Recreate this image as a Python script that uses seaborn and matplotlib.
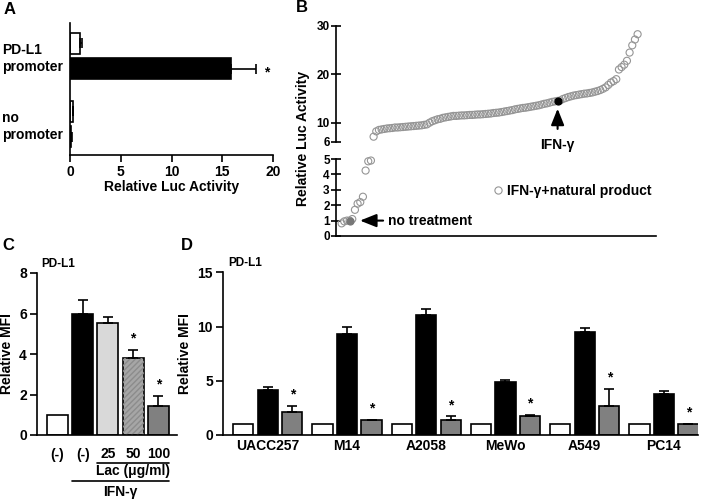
import numpy as np
import pandas as pd
import matplotlib
matplotlib.use('Agg')
import matplotlib.pyplot as plt
from matplotlib.lines import Line2D
from matplotlib.patches import Rectangle
from matplotlib.container import BarContainer
import seaborn as sns

sns.set_style('ticks', rc={'axes.edgecolor': 'black', 'text.color': 'black',
                           'xtick.color': 'black', 'ytick.color': 'black',
                           'axes.labelcolor': 'black'})
plt.rcParams['font.family'] = ['Liberation Sans', 'DejaVu Sans']
plt.rcParams['font.weight'] = 'bold'
plt.rcParams['axes.labelweight'] = 'bold'
plt.rcParams['axes.linewidth'] = 1.2
plt.rcParams['xtick.major.width'] = 1.2
plt.rcParams['ytick.major.width'] = 1.2

# ---- data ----
# A: luciferase reporter, without / with IFN-gamma
a_groups = ['PD-L1\npromoter', 'no\npromoter']
a_ctrl = [1.0, 0.25]
a_ctrl_err = [0.2, 0.04]
a_ifn = [15.9, 0.12]
a_ifn_err = [2.4, 0.03]

# B: natural product screen, sorted by activity
b_values = [0.82, 0.95, 1.0, 1.0, 1.1, 1.7, 2.1, 2.2, 2.55, 4.25,
            4.85, 4.9, 7.1, 8.2, 8.5, 8.6, 8.7, 8.8, 8.85, 8.9,
            9.0, 9.0, 9.05, 9.1, 9.15, 9.2, 9.25, 9.3, 9.35, 9.4,
            9.45, 9.55, 9.65, 10.0, 10.3, 10.5, 10.7, 10.8, 11.0, 11.1,
            11.2, 11.3, 11.4, 11.4, 11.45, 11.5, 11.5, 11.55, 11.6, 11.6,
            11.65, 11.7, 11.7, 11.75, 11.8, 11.85, 11.9, 12.0, 12.05, 12.1,
            12.2, 12.3, 12.4, 12.5, 12.6, 12.75, 12.85, 12.95, 13.05, 13.1,
            13.2, 13.3, 13.4, 13.5, 13.6, 13.75, 13.9, 14.0, 14.15, 14.3,
            14.4, 14.5, 14.6, 14.9, 15.1, 15.3, 15.45, 15.6, 15.7, 15.8,
            15.9, 16.0, 16.05, 16.15, 16.25, 16.4, 16.55, 16.75, 17.0, 17.3,
            17.8, 18.3, 18.6, 19.0, 21.0, 21.5, 22.0, 22.8, 24.5, 26.0,
            27.2, 28.3]
b_none_idx = 3
b_ifn_idx = 81

# C: Lac dose response
c_labels = ['(-)', '(-)', '25', '50', '100']
c_values = [1.0, 6.0, 5.54, 3.8, 1.45]
c_err = [0.0, 0.66, 0.29, 0.41, 0.48]
c_sig = [False, False, False, True, True]
c_colors = ['white', 'black', '#d9d9d9', '#a6a6a6', '#808080']

# D: cell lines
d_cells = ['UACC257', 'M14', 'A2058', 'MeWo', 'A549', 'PC14']
d_ctrl = [1.0, 1.0, 1.0, 1.0, 1.0, 1.0]
d_ifn = [4.15, 9.32, 11.1, 4.92, 9.48, 3.82]
d_ifn_err = [0.31, 0.68, 0.5, 0.18, 0.37, 0.27]
d_lac = [2.09, 1.35, 1.38, 1.78, 2.7, 1.0]
d_lac_err = [0.59, 0.03, 0.34, 0.07, 1.58, 0.06]

W, H = 710, 501
fig = plt.figure(figsize=(7.1, 5.01), dpi=100)


def box(l, t, r, b):
    return [l / W, 1 - b / H, (r - l) / W, (b - t) / H]


def bars_of(ax):
    return [c for c in ax.containers if isinstance(c, BarContainer)]


def one_sided(ax, x, y, e, horiz=False):
    kw = dict(fmt='none', ecolor='black', elinewidth=1.2, capsize=3.3, capthick=1.2)
    if horiz:
        ax.errorbar(x, y, xerr=[[0], [e]], **kw)
    else:
        ax.errorbar(x, y, yerr=[[0], [e]], **kw)


FS = 10

# ---------------- A ----------------
axA = fig.add_axes(box(70, 23, 273, 155))
dfa = pd.DataFrame({'group': a_groups * 2, 'val': a_ctrl + a_ifn,
                    'cond': ['ctrl'] * 2 + ['ifn'] * 2})
sns.barplot(data=dfa, y='group', x='val', hue='cond', orient='h',
            palette=['white', 'black'], saturation=1, edgecolor='black',
            linewidth=1.2, width=0.744, gap=0.19, errorbar=None, legend=False, ax=axA)
contA = bars_of(axA)
for j, errs in enumerate([a_ctrl_err, a_ifn_err]):
    for i, bar in enumerate(contA[j]):
        yc = bar.get_y() + bar.get_height() / 2
        one_sided(axA, bar.get_width(), yc, errs[i], horiz=True)
bar = contA[1][0]
axA.annotate('*', xy=(a_ifn[0] + a_ifn_err[0], bar.get_y() + bar.get_height() / 2),
             xytext=(6, -3), textcoords='offset points', ha='left', va='center', fontsize=FS)
axA.set_xlim(0, 20)
axA.set_ylim(1.456, -0.485)
axA.set_xticks([0, 5, 10, 15, 20])
axA.tick_params(axis='x', length=5, labelsize=FS, pad=2)
axA.tick_params(axis='y', length=0, pad=49)
axA.set_yticks([0, 1])
axA.set_yticklabels(a_groups, ha='left', fontsize=FS)
axA.set_xlabel('Relative Luc Activity', fontsize=FS, labelpad=1)
axA.set_ylabel('')
sns.despine(ax=axA)

# ---------------- B ----------------
axBu = fig.add_axes(box(336, 26, 656, 142))
axBl = fig.add_axes(box(336, 159, 656, 236))
dfb = pd.DataFrame({'idx': np.arange(len(b_values)), 'val': b_values})
for ax, part in [(axBl, dfb[dfb.val < 5.5]), (axBu, dfb[dfb.val >= 5.5])]:
    sns.scatterplot(data=part, x='idx', y='val', ax=ax, marker='o', s=26,
                    facecolor='none', edgecolor='#959595', linewidth=0.8, clip_on=False)
sp = dfb.loc[[b_none_idx]]
sns.scatterplot(data=sp, x='idx', y='val', ax=axBl, s=26, color='#777777',
                edgecolor='#777777', linewidth=0.8, clip_on=False)
sp = dfb.loc[[b_ifn_idx]]
sns.scatterplot(data=sp, x='idx', y='val', ax=axBu, s=26, color='black',
                edgecolor='black', linewidth=0.8, clip_on=False, zorder=5)
for ax in [axBl, axBu]:
    ax.set_xlim(-2.1, 117.9)
    ax.set_xlabel('')
    ax.set_ylabel('')
    ax.set_xticks([])
    ax.tick_params(axis='y', direction='inout', length=7, labelsize=8.5, pad=1)
axBl.set_ylim(0, 5)
axBl.set_yticks([0, 1, 2, 3, 4, 5])
axBu.set_ylim(6, 30)
axBu.set_yticks([6, 10, 20, 30])
sns.despine(ax=axBl)
sns.despine(ax=axBu, bottom=True)

axBu.annotate('IFN-\u03b3', xy=(b_ifn_idx, 12.9), xytext=(0, -26),
              textcoords='offset points', ha='center', va='center', fontsize=FS,
              annotation_clip=False,
              arrowprops=dict(arrowstyle='-|>,head_length=0.45,head_width=0.18',
                              mutation_scale=22, lw=1.5, color='black',
                              shrinkA=4, shrinkB=0))
axBl.annotate('no treatment', xy=(6.9, 1.0), xytext=(20, 0),
              textcoords='offset points', ha='left', va='center', fontsize=FS,
              arrowprops=dict(arrowstyle='-|>,head_length=0.45,head_width=0.18',
                              mutation_scale=22, lw=1.5, color='black',
                              shrinkA=1, shrinkB=0))
hnd = Line2D([], [], marker='o', ls='none', mfc='none', mec='#959595', ms=5.2, mew=0.8)
axBl.legend([hnd], ['IFN-\u03b3+natural product'], loc='center left',
            bbox_to_anchor=(0.4875, 0.584), frameon=False, handlelength=0.8,
            handletextpad=0.3, borderaxespad=0, borderpad=0, fontsize=FS)
fig.text(303 / W, 1 - 138 / H, 'Relative Luc Activity', rotation=90,
         ha='center', va='center', fontsize=FS)

# ---------------- C ----------------
axC = fig.add_axes(box(36.7, 273, 176.7, 435))
dfc = pd.DataFrame({'cond': ['none', 'ifn', 'lac25', 'lac50', 'lac100'], 'val': c_values})
sns.barplot(data=dfc, x='cond', y='val', hue='cond', palette=c_colors, saturation=1,
            edgecolor='black', linewidth=1.2, width=0.833, errorbar=None, legend=False, ax=axC)
contC = bars_of(axC)
for i, cont in enumerate(contC):
    bar = cont[0]
    xc = bar.get_x() + bar.get_width() / 2
    if c_err[i] > 0:
        one_sided(axC, xc, c_values[i], c_err[i])
    if c_sig[i]:
        axC.annotate('*', xy=(xc, c_values[i] + c_err[i]), xytext=(0, 3),
                     textcoords='offset points', ha='center', va='bottom', fontsize=FS)
b4 = contC[3][0]
axC.add_patch(Rectangle((b4.get_x(), 0), b4.get_width(), b4.get_height(), fill=False,
                        hatch='//////', edgecolor='#8c8c8c', linewidth=0))
axC.set_xlim(-0.823, 4.73)
axC.set_ylim(0, 8)
axC.set_yticks([0, 2, 4, 6, 8])
axC.set_xticks(range(5))
axC.set_xticklabels(c_labels)
axC.tick_params(axis='x', length=0, labelsize=FS, pad=9)
axC.tick_params(axis='y', length=5, labelsize=FS, pad=2)
axC.set_xlabel('')
axC.set_ylabel('Relative MFI', fontsize=FS, labelpad=4)
sns.despine(ax=axC)
tr = axC.get_xaxis_transform()
axC.plot([1.585, 4.417], [-0.175, -0.175], transform=tr, clip_on=False, color='black', lw=1.2)
axC.plot([0.585, 4.417], [-0.284, -0.284], transform=tr, clip_on=False, color='black', lw=1.2)
axC.text(3.0, -0.225, 'Lac (\u03bcg/ml)', transform=tr, ha='center', va='center', fontsize=FS)
axC.text(2.5, -0.35, 'IFN-\u03b3', transform=tr, ha='center', va='center', fontsize=FS)
axC.text(0.031, 1.058, 'PD-L1', transform=axC.transAxes, ha='left', va='center', fontsize=8.5)

# ---------------- D ----------------
axD = fig.add_axes(box(222.7, 272.4, 698, 435))
dfd = pd.DataFrame({'cell': d_cells * 3, 'val': d_ctrl + d_ifn + d_lac,
                    'cond': ['ctrl'] * 6 + ['ifn'] * 6 + ['lac'] * 6})
sns.barplot(data=dfd, x='cell', y='val', hue='cond', palette=['white', 'black', '#808080'],
            saturation=1, edgecolor='black', linewidth=1.2, width=0.928, gap=0.17,
            errorbar=None, legend=False, ax=axD)
contD = bars_of(axD)
for j, (vals, errs) in enumerate([(d_ifn, d_ifn_err), (d_lac, d_lac_err)]):
    for i, bar in enumerate(contD[j + 1]):
        xc = bar.get_x() + bar.get_width() / 2
        one_sided(axD, xc, vals[i], errs[i])
        if j == 1:
            axD.annotate('*', xy=(xc, vals[i] + errs[i]), xytext=(0, 3),
                         textcoords='offset points', ha='center', va='bottom', fontsize=FS)
axD.set_xlim(-0.569, 5.43)
axD.set_ylim(0, 15)
axD.set_yticks([0, 5, 10, 15])
axD.tick_params(axis='x', length=0, labelsize=FS, pad=3)
axD.tick_params(axis='y', length=5, labelsize=FS, pad=2)
axD.set_xlabel('')
axD.set_ylabel('Relative MFI', fontsize=FS, labelpad=4)
sns.despine(ax=axD)
axD.text(0.011, 1.058, 'PD-L1', transform=axD.transAxes, ha='left', va='center', fontsize=8.5)

# panel letters
for lab, x, y in [('A', 10, 9), ('B', 302, 8), ('C', 8, 246), ('D', 187, 246)]:
    fig.text(x / W, 1 - y / H, lab, ha='center', va='center', fontsize=12, fontweight='bold')

fig.savefig('out.png', dpi=100)
